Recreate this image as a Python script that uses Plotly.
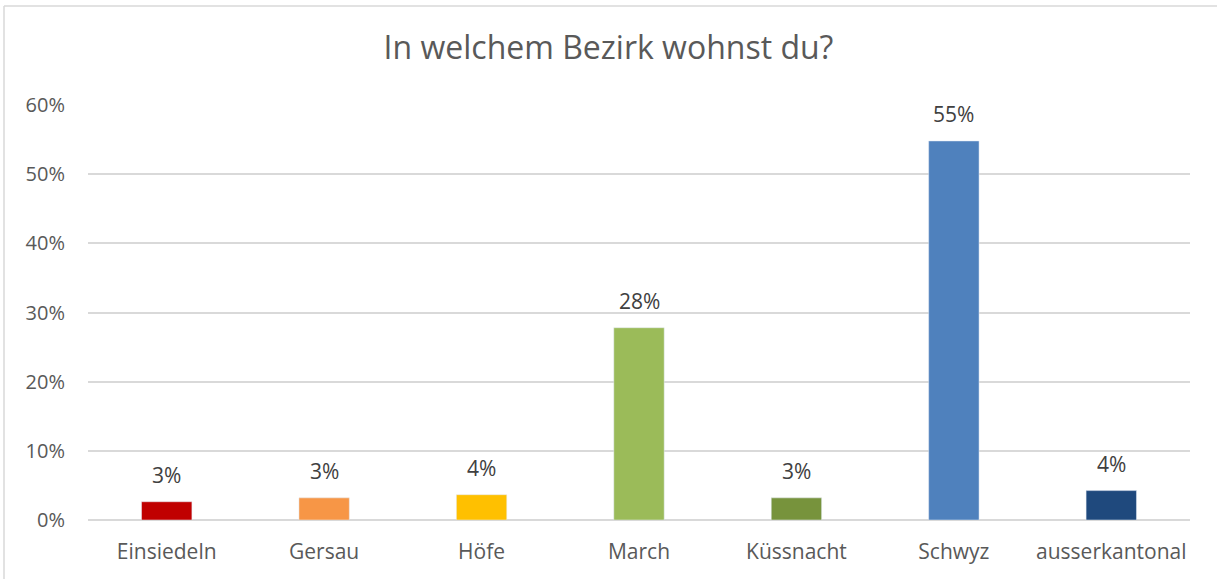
import plotly.graph_objects as go

categories = ["Einsiedeln", "Gersau", "Höfe", "March", "Küssnacht", "Schwyz", "ausserkantonal"]
values = [0.0264, 0.032, 0.0366, 0.278, 0.032, 0.548, 0.0425]
labels = ["3%", "3%", "4%", "28%", "3%", "55%", "4%"]
colors = ["#C00000", "#F79646", "#FFC000", "#9BBB59", "#77933C", "#4F81BD", "#1F497D"]
tick_vals = [0, 0.1, 0.2, 0.3, 0.4, 0.5, 0.6]
tick_text = ["0%", "10%", "20%", "30%", "40%", "50%", "60%"]

FONT = "Open Sans, sans-serif"

fig = go.Figure(go.Bar(
    x=categories, y=values, marker_color=colors, width=0.32,
    hoverinfo="x+y",
))

for c, v, t in zip(categories, values, labels):
    fig.add_annotation(x=c, y=v, text=t, showarrow=False, yanchor="bottom",
                       yshift=11, font=dict(family=FONT, size=21, color="#404040"))

W, H = 1217, 579
ml, mr, mt, mb = 88, 27, 105, 59
fig.update_layout(
    width=W, height=H,
    margin=dict(l=ml, r=mr, t=mt, b=mb),
    paper_bgcolor="white", plot_bgcolor="white",
    title=dict(text="In welchem Bezirk wohnst du?", x=0.5, xanchor="center",
               y=1 - 48 / H, yanchor="middle",
               font=dict(family=FONT, size=32, color="#595959")),
    font=dict(family=FONT, size=18, color="#595959"),
    showlegend=False,
    xaxis=dict(showgrid=False, showline=False, ticks="", ticklabelstandoff=17,
               tickfont=dict(family=FONT, size=21, color="#595959")),
    yaxis=dict(range=[0, 0.6], tickvals=tick_vals, ticktext=tick_text,
               showgrid=True, gridcolor="#D9D9D9", gridwidth=1.5,
               zeroline=True, zerolinecolor="#D9D9D9", zerolinewidth=1.5,
               showline=False, ticks="", ticklabelstandoff=22,
               tickfont=dict(family=FONT, size=20, color="#595959")),
)

pw = W - ml - mr
ph = H - mt - mb
x0 = (4 - ml) / pw
y1 = 1 + (mt - 6) / ph
fig.add_shape(type="line", xref="paper", yref="paper", x0=x0, x1=x0, y0=-1, y1=y1,
              line=dict(color="#D9D9D9", width=1.5))
fig.add_shape(type="line", xref="paper", yref="paper", x0=x0, x1=2, y0=y1, y1=y1,
              line=dict(color="#D9D9D9", width=1.5))

fig.write_html("out.html", config={"displayModeBar": False},
               post_script="document.body.style.margin='0';")
